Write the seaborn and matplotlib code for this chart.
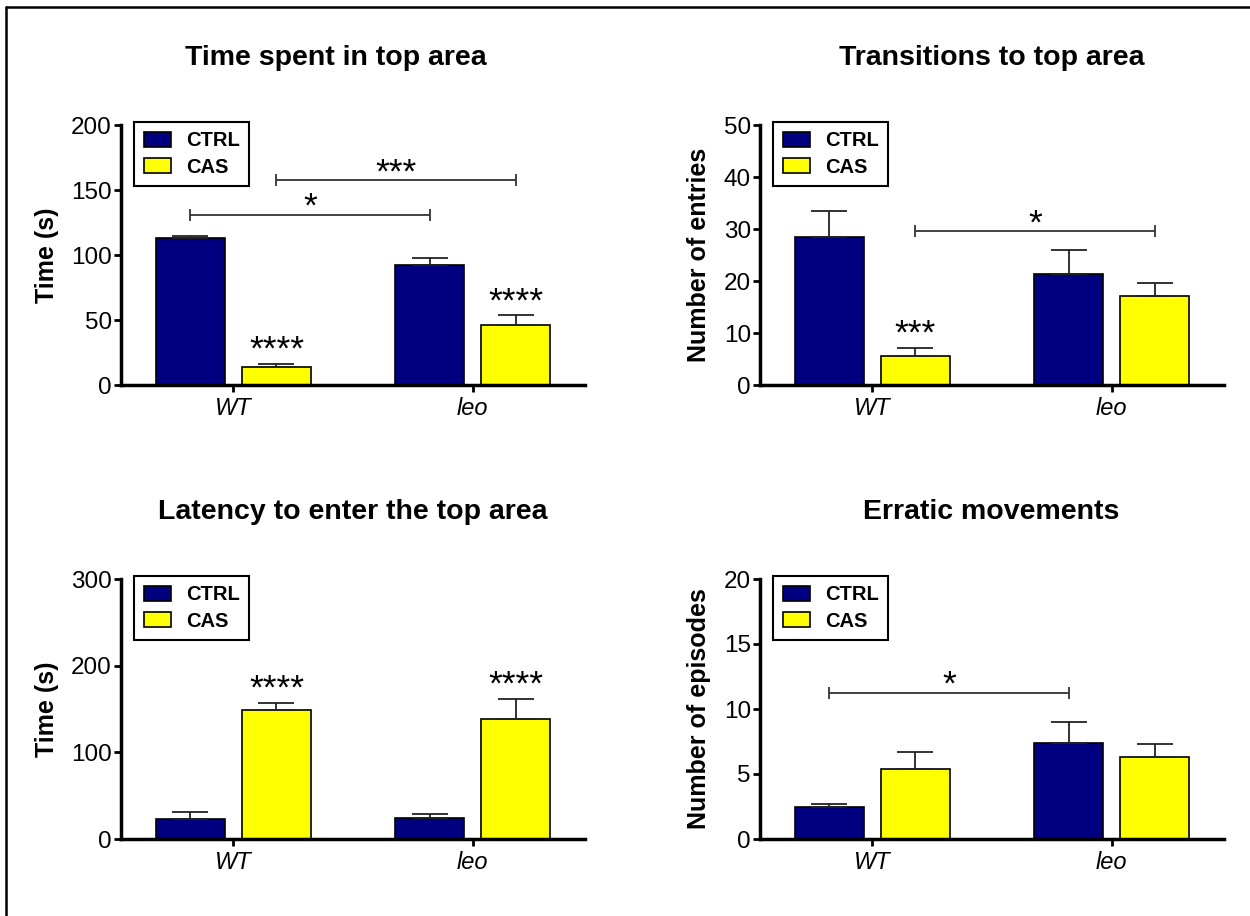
import matplotlib
matplotlib.use('Agg')
import pandas as pd
import matplotlib.pyplot as plt
import seaborn as sns
from matplotlib.lines import Line2D
from matplotlib.patches import Patch

# genotypes on the x axis, treatment groups as hue
genotypes = ['WT', 'leo']
groups = ['CTRL', 'CAS']
colors = {'CTRL': '#000080', 'CAS': '#FFFF00'}

# Time spent in top area (s), mean and SEM
time_ctrl = [113, 92]
time_cas = [14, 46]
time_ctrl_sem = [2, 6]
time_cas_sem = [2, 7.5]

# Transitions to top area (number of entries)
trans_ctrl = [28.4, 21.3]
trans_cas = [5.6, 17.1]
trans_ctrl_sem = [5.1, 4.6]
trans_cas_sem = [1.6, 2.5]

# Latency to enter the top area (s)
lat_ctrl = [23, 24]
lat_cas = [149, 138]
lat_ctrl_sem = [8, 4.6]
lat_cas_sem = [8, 23.5]

# Erratic movements (number of episodes)
err_ctrl = [2.45, 7.35]
err_cas = [5.35, 6.3]
err_ctrl_sem = [0.25, 1.65]
err_cas_sem = [1.35, 0.97]

# significance marks above the CAS bars (per genotype)
time_stars = ['****', '****']
trans_stars = ['***', '']
lat_stars = ['****', '****']
err_stars = ['', '']

# brackets: (group a, genotype a, group b, genotype b, height, label)
time_brackets = [('CTRL', 0, 'CTRL', 1, 131, '*'), ('CAS', 0, 'CAS', 1, 157.5, '***')]
trans_brackets = [('CAS', 0, 'CAS', 1, 29.6, '*')]
lat_brackets = []
err_brackets = [('CTRL', 0, 'CTRL', 1, 11.25, '*')]

titles = ['Time spent in top area', 'Transitions to top area',
          'Latency to enter the top area', 'Erratic movements']
ylabels = ['Time (s)', 'Number of entries', 'Time (s)', 'Number of episodes']
ymax = [200, 50, 300, 20]
ystep = [50, 10, 100, 5]

panels = [
    (time_ctrl, time_cas, time_ctrl_sem, time_cas_sem, time_stars, time_brackets),
    (trans_ctrl, trans_cas, trans_ctrl_sem, trans_cas_sem, trans_stars, trans_brackets),
    (lat_ctrl, lat_cas, lat_ctrl_sem, lat_cas_sem, lat_stars, lat_brackets),
    (err_ctrl, err_cas, err_ctrl_sem, err_cas_sem, err_stars, err_brackets),
]

sns.set_style('ticks')
plt.rcParams['font.family'] = ['Liberation Sans', 'DejaVu Sans']
plt.rcParams.update({'text.color': 'black', 'axes.labelcolor': 'black',
                     'xtick.color': 'black', 'ytick.color': 'black',
                     'axes.edgecolor': 'black'})

W, H = 1250, 916
fig = plt.figure(figsize=(W / 100, H / 100), dpi=100)

# axes boxes in pixels (left, top, right, bottom)
boxes = [(121, 125, 585, 385), (760, 125, 1224, 385),
         (121, 579, 585, 839), (760, 579, 1224, 839)]
title_pos = [(335.5, 65), (992, 65), (352.5, 519), (991.5, 519)]

for i, (ctrl, cas, ctrl_sem, cas_sem, stars, brackets) in enumerate(panels):
    l, t, r, b = boxes[i]
    ax = fig.add_axes([l / W, 1 - b / H, (r - l) / W, (b - t) / H])

    df = pd.DataFrame({
        'genotype': genotypes * 2,
        'group': ['CTRL'] * 2 + ['CAS'] * 2,
        'value': ctrl + cas,
    })
    sns.barplot(data=df, x='genotype', y='value', hue='group', hue_order=groups,
                palette=colors, saturation=1, width=0.72, gap=0.2,
                edgecolor='black', linewidth=1.2, errorbar=None, legend=False,
                ax=ax, zorder=2)

    sems = {'CTRL': ctrl_sem, 'CAS': cas_sem}
    centers = {}
    tops = {}
    for g, cont in zip(groups, ax.containers):
        xs = [p.get_x() + p.get_width() / 2 for p in cont]
        ys = [p.get_height() for p in cont]
        centers[g] = xs
        tops[g] = [y + e for y, e in zip(ys, sems[g])]
        ax.errorbar(xs, ys, yerr=[[0] * len(xs), sems[g]], fmt='none',
                    ecolor='#222222', elinewidth=1.3, capsize=13, capthick=1.3,
                    zorder=3)

    for j, s in enumerate(stars):
        if s:
            ax.annotate(s, (centers['CAS'][j], tops['CAS'][j]), xytext=(0, 3),
                        textcoords='offset points', ha='center', va='baseline',
                        fontsize=25.5)

    for ga, ia, gb, ib, y, lab in brackets:
        xa, xb = centers[ga][ia], centers[gb][ib]
        ax.errorbar((xa + xb) / 2, y, xerr=(xb - xa) / 2, fmt='none',
                    ecolor='#333333', elinewidth=1.3, capsize=4, capthick=1.3)
        ax.annotate(lab, ((xa + xb) / 2, y), xytext=(0, -1.5),
                    textcoords='offset points', ha='center', va='baseline',
                    fontsize=25.5)

    ax.set_xlim(-0.47, 1.47)
    ax.set_ylim(0, ymax[i])
    ax.set_yticks(range(0, ymax[i] + 1, ystep[i]))
    ax.set_xlabel('')
    ax.set_ylabel(ylabels[i], fontsize=18, fontweight='bold', labelpad=9)
    ax.tick_params(axis='y', labelsize=17.5, length=5, width=2, pad=1.5)
    ax.tick_params(axis='x', labelsize=17, length=5, width=2, pad=3.5)
    for lbl in ax.get_xticklabels():
        lbl.set_fontstyle('italic')
    sns.despine(ax=ax)
    for side in ['left', 'bottom']:
        ax.spines[side].set_linewidth(2.5)

    handles = [Patch(facecolor=colors[g], edgecolor='black', linewidth=1.2, label=g)
               for g in groups]
    leg = ax.legend(handles=handles, loc='upper left', bbox_to_anchor=(0.029, 1.01),
                    borderaxespad=0, fancybox=False, edgecolor='black',
                    framealpha=1, prop={'weight': 'bold', 'size': 14.5},
                    handlelength=1.35, handleheight=0.72, handletextpad=0.75,
                    labelspacing=0.35, borderpad=0.45)
    leg.get_frame().set_linewidth(1.5)

    tx, ty = title_pos[i]
    fig.text(tx / W, 1 - ty / H, titles[i], ha='center', va='baseline',
             fontsize=20.5, fontweight='bold')

# outer frame (top and left edges visible)
fig.add_artist(Line2D([6 / W, 1.01], [1 - 7 / H, 1 - 7 / H], color='black', lw=1.8))
fig.add_artist(Line2D([6 / W, 6 / W], [1 - 7 / H, -0.01], color='black', lw=1.8))

fig.savefig('out.png', dpi=100)
